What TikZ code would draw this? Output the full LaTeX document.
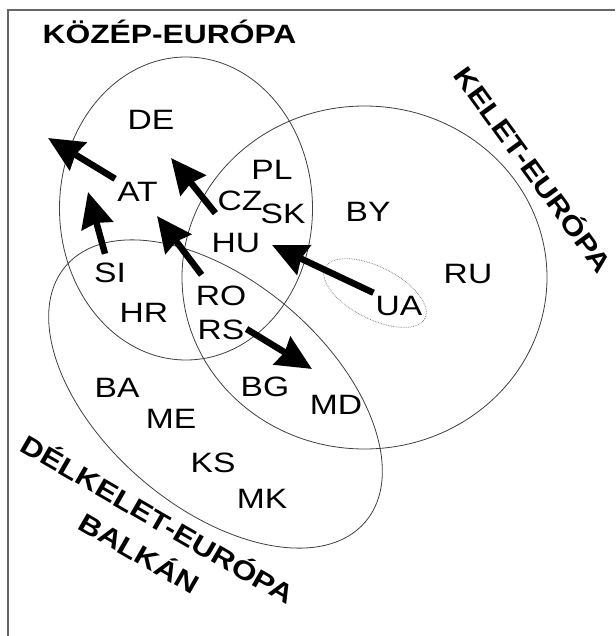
\documentclass[tikz,border=0pt]{standalone}
\usepackage{fontspec}
\setmainfont[FakeStretch=1.2]{Liberation Sans}
\usetikzlibrary{arrows.meta}
\begin{document}
\begin{tikzpicture}[x=1pt,y=1pt,
  region/.style={draw=black!75, line width=0.8pt},
  cc/.style={font=\fontsize{28}{30}\selectfont, inner sep=2pt, text height=20pt, text depth=0pt},
  ttl/.style={font=\fontsize{26.5}{30}\selectfont\bfseries, inner sep=1pt},
  rttl/.style={ttl, text height=19pt, text depth=0pt},
  arr/.style={line width=6.5pt, -{Stealth[length=35pt,width=32pt,inset=3pt]}},
]
\fill[white] (0,0) rectangle (615,-636);
\useasboundingbox (0,0) rectangle (615,-636);
% frame (top and left edge)
\draw[black!60, line width=1.5pt] (8,-636) -- (8,-10) -- (615,-10);

% regions
\draw[region] (186,-208.5) ellipse [x radius=126.5, y radius=151.5];
\draw[region] (364.5,-277.5) ellipse [x radius=182.5, y radius=171.5];
\draw[region, rotate around={-40.5:(215.5,-394)}] (215.5,-394) ellipse [x radius=197, y radius=113];
\draw[black!55, line width=0.7pt, densely dotted, rotate around={-27:(375,-293)}] (375,-293) ellipse [x radius=56, y radius=26];

% titles
\node[ttl, anchor=base] (kozep) at (169.5,-43.3) {KÖZÉP-EURÓPA};
\node[rttl, rotate=-54] (kelet) at (533,-170) {KELET-EURÓPA};
\node[rttl, rotate=-30] (delkelet) at (157.5,-519.5) {DÉLKELET-EURÓPA};
\node[rttl, rotate=-30] (balkan) at (139,-553.5) {BALKÁN};

% countries
\node[cc] (DE) at (151,-120) {DE};
\node[cc] (AT) at (137.5,-191) {AT};
\node[cc] (PL) at (272,-170) {PL};
\node[cc] (CZ) at (240,-201) {CZ};
\node[cc] (SK) at (283,-213) {SK};
\node[cc] (BY) at (368,-212) {BY};
\node[cc] (HU) at (236,-242) {HU};
\node[cc] (SI) at (110,-272) {SI};
\node[cc] (RO) at (221,-295) {RO};
\node[cc] (RU) at (468,-273) {RU};
\node[cc] (UA) at (399,-305) {UA};
\node[cc] (HR) at (144,-312) {HR};
\node[cc] (RS) at (221,-329) {RS};
\node[cc] (BG) at (265,-386) {BG};
\node[cc] (MD) at (336,-404) {MD};
\node[cc] (BA) at (117,-387) {BA};
\node[cc] (ME) at (171,-418) {ME};
\node[cc] (KS) at (213,-462) {KS};
\node[cc] (MK) at (262,-498) {MK};

% arrow ends
\coordinate (atEnd) at (48,-138);
\coordinate (siEnd) at (88,-192);
\coordinate (czEnd) at (171,-158);
\coordinate (roEnd) at (157,-216);
\coordinate (uaEnd) at (272,-245);
\coordinate (rsEnd) at (312,-369);

\draw[arr] (AT.north west) -- (atEnd);
\draw[arr] ([xshift=-5pt,yshift=6pt]SI.north) -- (siEnd);
\draw[arr] (CZ.south west) -- (czEnd);
\draw[arr] ([xshift=8pt,yshift=8pt]RO.north west) -- (roEnd);
\draw[arr] (UA.north west) -- (uaEnd);
\draw[arr] (RS.east) -- (rsEnd);
\end{tikzpicture}
\end{document}
